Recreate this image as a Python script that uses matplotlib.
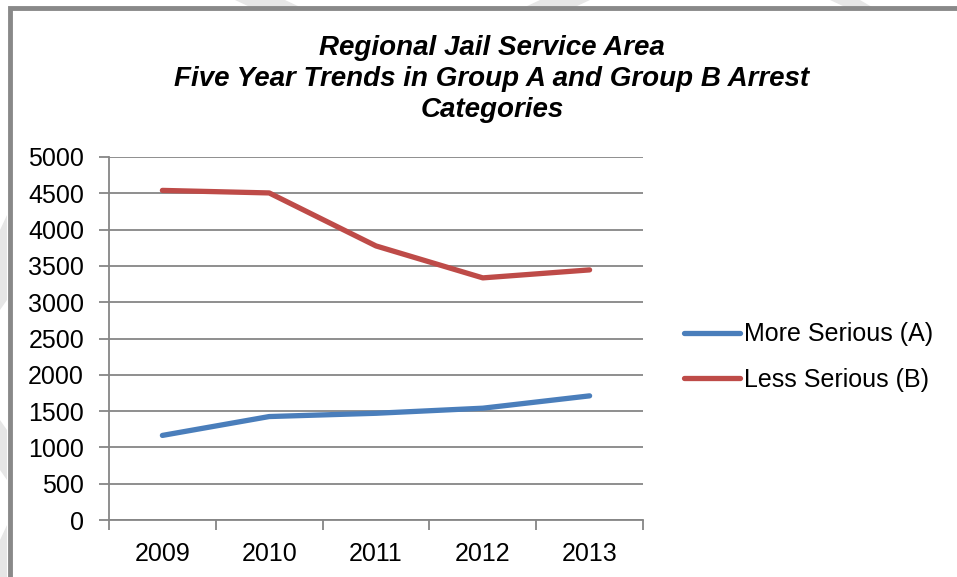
import matplotlib
matplotlib.use("Agg")
import matplotlib.pyplot as plt
from matplotlib.patches import Polygon, Rectangle

plt.rcParams['font.family'] = ['Liberation Sans', 'DejaVu Sans']

years = ["2009", "2010", "2011", "2012", "2013"]
more_serious = [1165, 1425, 1470, 1540, 1710]
less_serious = [4540, 4505, 3775, 3335, 3445]
y_ticks = [0, 500, 1000, 1500, 2000, 2500, 3000, 3500, 4000, 4500, 5000]

W, H = 957, 577
fig = plt.figure(figsize=(W / 100, H / 100), dpi=100)

# faint diagonal watermark strokes along the edges
wm = "#e6e6e6"
for pts in [
    [(235, 0), (285, 0), (300, 7), (250, 7)],
    [(540, 0), (590, 0), (575, 7), (525, 7)],
    [(830, 0), (860, 0), (872, 7), (845, 7)],
    [(0, 230), (7, 215), (7, 300), (0, 310)],
    [(0, 420), (7, 430), (7, 480), (0, 470)],
    [(0, 540), (7, 525), (7, 577), (0, 577)],
]:
    fig.patches.append(Polygon([(x / W, 1 - y / H) for x, y in pts], closed=True,
                               transform=fig.transFigure, facecolor=wm,
                               edgecolor="none", zorder=0))

# chart frame
fig.patches.append(Rectangle((9.5 / W, -0.1), 1.2, 1 - 7.5 / H + 0.1,
                             transform=fig.transFigure, facecolor="white",
                             edgecolor="#898989", linewidth=3.5, zorder=1))

ax = fig.add_axes([109 / W, 1 - 520 / H, (643 - 109) / W, (520 - 157) / H])
ax.set_zorder(2)
ax.patch.set_visible(False)

x = list(range(len(years)))
l1, = ax.plot(x, more_serious, color="#4a7ebb", linewidth=3.8,
              solid_capstyle="round", solid_joinstyle="round")
l2, = ax.plot(x, less_serious, color="#be4b48", linewidth=3.8,
              solid_capstyle="round", solid_joinstyle="round")

ax.set_xlim(-0.5, len(years) - 0.5)
ax.set_ylim(0, 5000)
ax.set_yticks(y_ticks)
ax.set_yticklabels([str(v) for v in y_ticks], fontsize=18)
ax.yaxis.grid(True, color="#868686", linewidth=1.3)
ax.set_axisbelow(True)

ax.set_xticks(x)
ax.set_xticklabels(years, fontsize=18)
ax.set_xticks([i - 0.5 for i in range(len(years) + 1)], minor=True)
ax.tick_params(axis="x", which="major", length=0, pad=16)
ax.tick_params(axis="x", which="minor", length=7, width=1.3, color="#868686")
ax.tick_params(axis="y", length=7, width=1.3, color="#868686", pad=11)

for s in ["top", "right"]:
    ax.spines[s].set_visible(False)
for s in ["left", "bottom"]:
    ax.spines[s].set_color("#868686")
    ax.spines[s].set_linewidth(1.3)

fig.text(492 / W, 1 - 79 / H,
         "Regional Jail Service Area\nFive Year Trends in Group A and Group B Arrest\nCategories",
         ha="center", va="center", fontsize=20, fontweight="bold",
         fontstyle="italic", linespacing=1.26)

fig.legend([l1, l2], ["More Serious (A)", "Less Serious (B)"],
           loc="center left", bbox_to_anchor=(671 / W, 1 - 357 / H),
           frameon=False, fontsize=18, handlelength=2.25, handletextpad=0.15,
           labelspacing=0.85, borderpad=0)

fig.savefig("out.png", dpi=100)
